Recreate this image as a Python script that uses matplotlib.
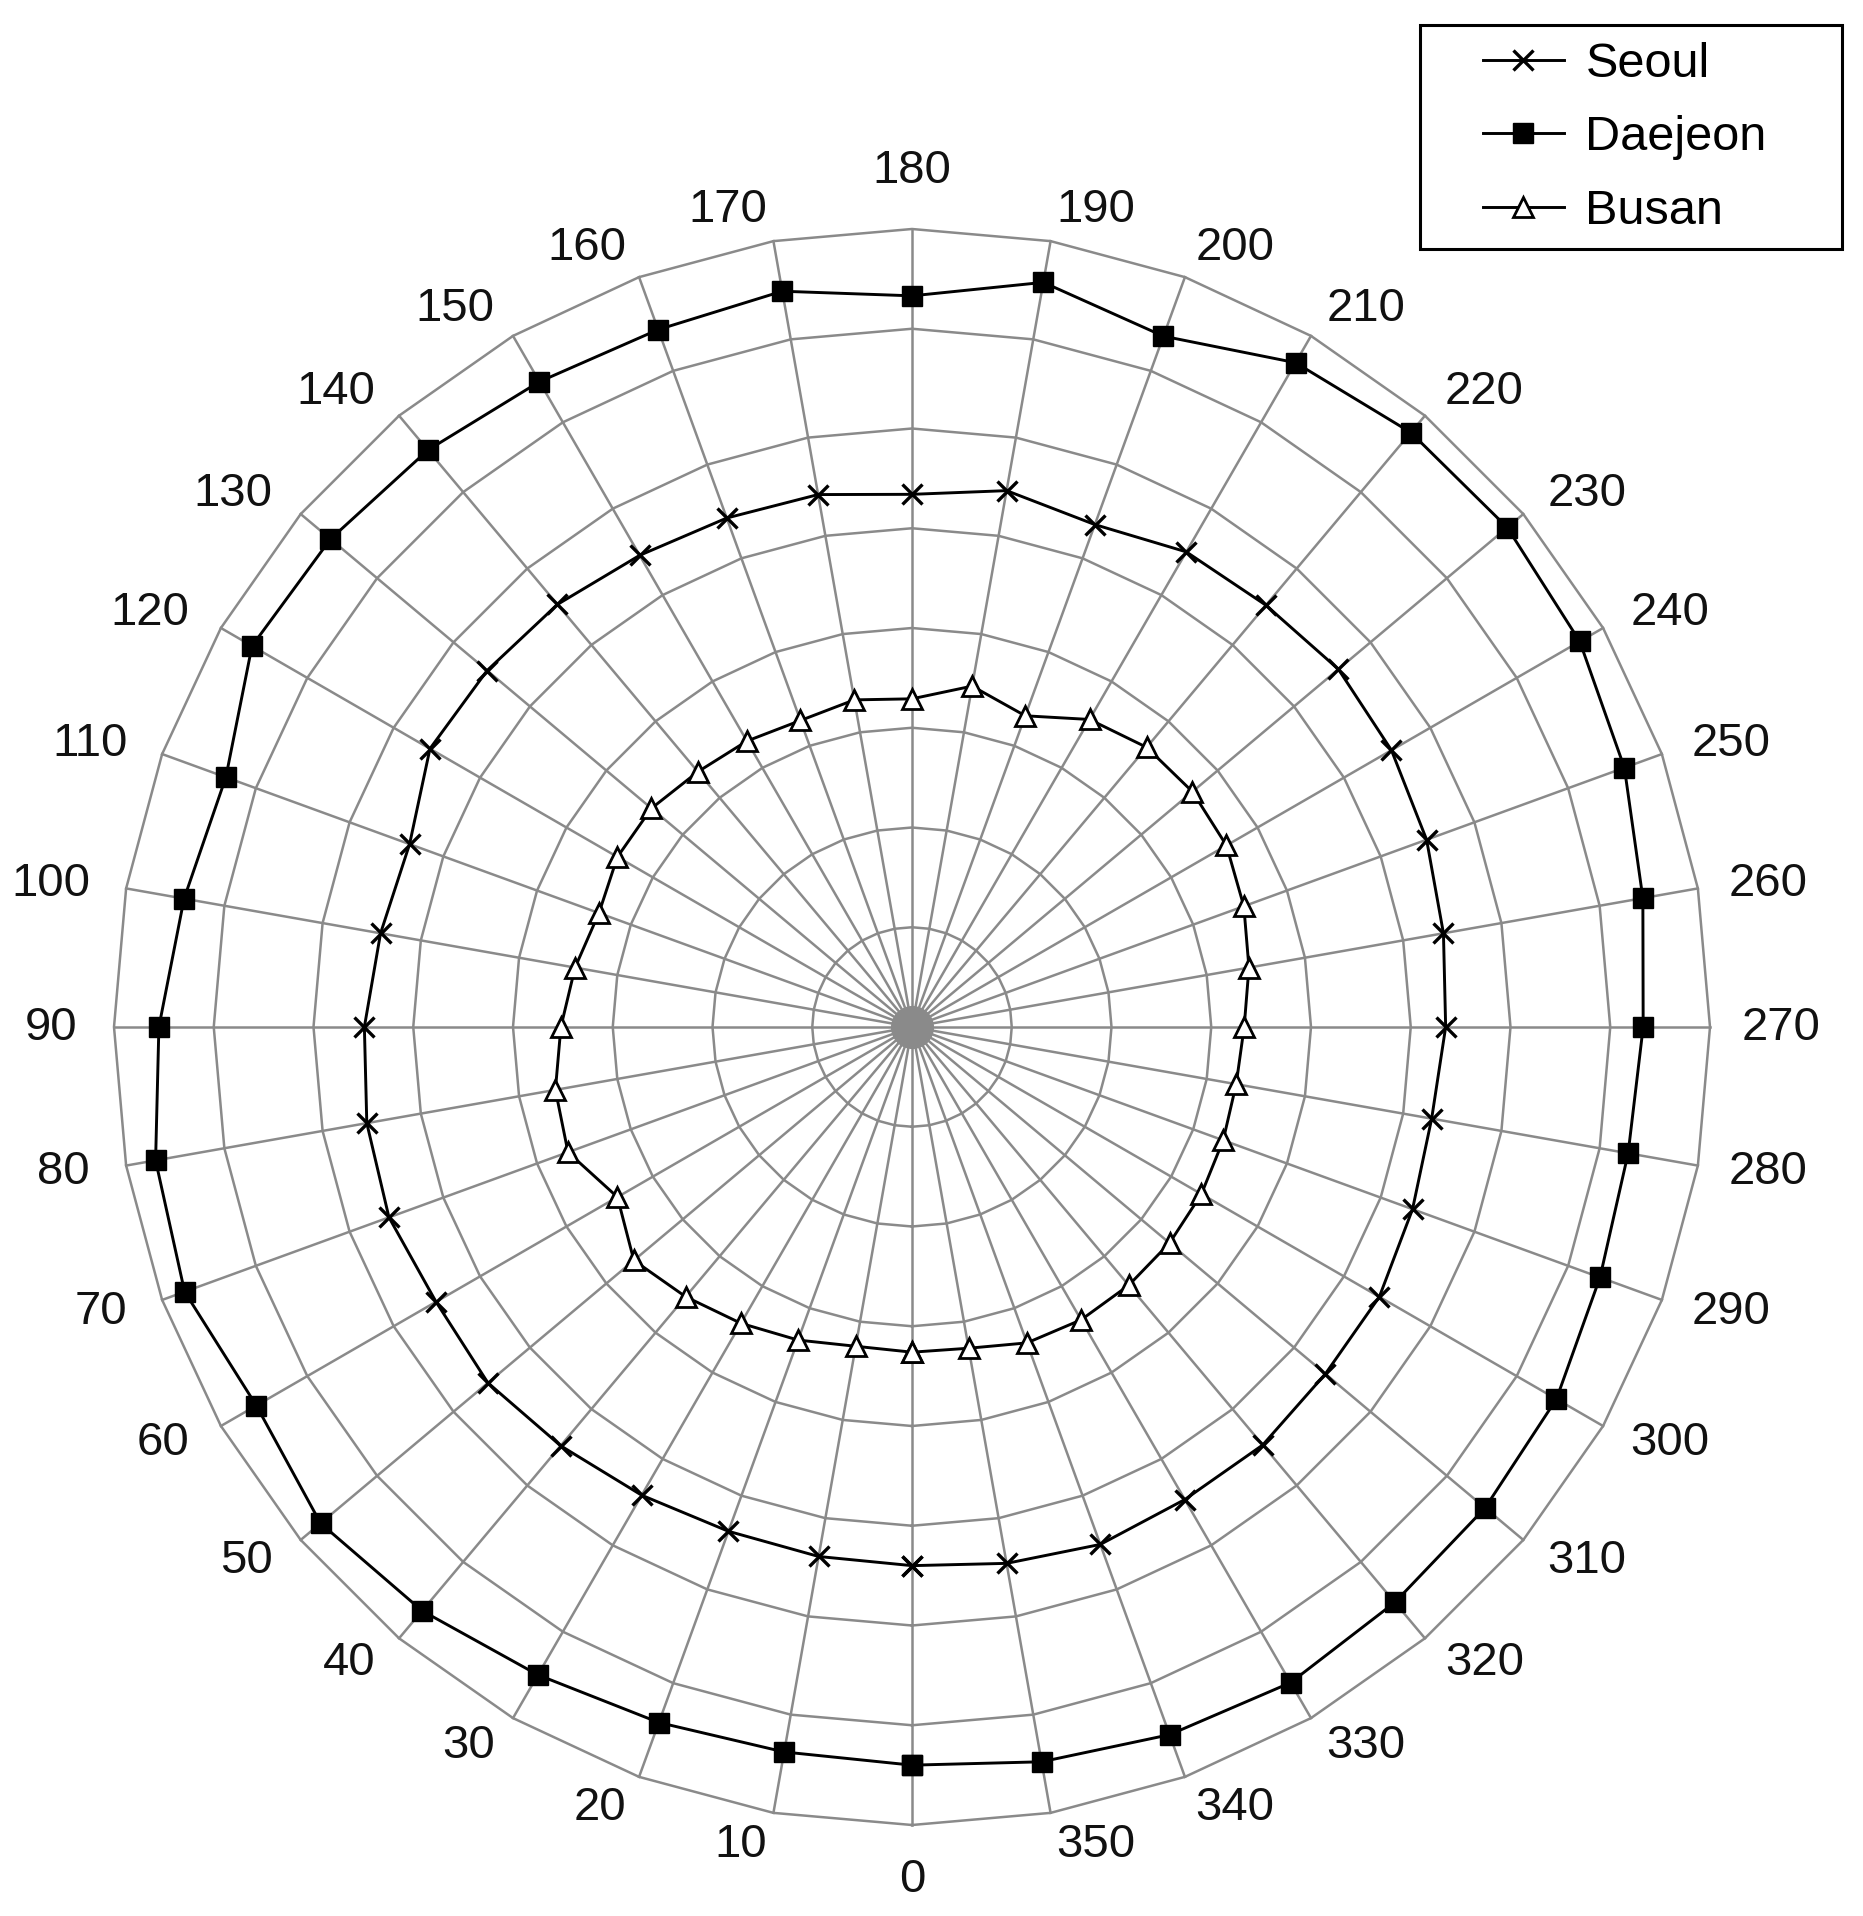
import numpy as np
import matplotlib
matplotlib.use('Agg')
import matplotlib.pyplot as plt
from matplotlib.patches import Rectangle

plt.rcParams['font.family'] = ['Liberation Sans', 'DejaVu Sans']

# direction in degrees (0 at bottom, going clockwise)
angles = list(range(0, 360, 10))
angle_labels = [str(a) for a in angles]

seoul = [5.40, 5.39, 5.38, 5.42, 5.48, 5.55, 5.51, 5.58, 5.55, 5.49, 5.41, 5.36,
         5.58, 5.56, 5.53, 5.46, 5.43, 5.42, 5.34, 5.46, 5.36, 5.50, 5.52, 5.58,
         5.55, 5.49, 5.41, 5.35, 5.29, 5.34, 5.41, 5.41, 5.47, 5.47, 5.52, 5.46]
daejeon = [7.40, 7.38, 7.42, 7.50, 7.64, 7.74, 7.59, 7.76, 7.70, 7.55, 7.41, 7.32,
           7.64, 7.61, 7.55, 7.47, 7.44, 7.49, 7.33, 7.58, 7.37, 7.69, 7.78, 7.79,
           7.73, 7.60, 7.44, 7.33, 7.29, 7.34, 7.46, 7.50, 7.53, 7.59, 7.55, 7.48]
busan = [3.26, 3.25, 3.34, 3.43, 3.53, 3.64, 3.41, 3.67, 3.63, 3.52, 3.43, 3.34,
         3.41, 3.41, 3.34, 3.31, 3.27, 3.33, 3.29, 3.47, 3.32, 3.56, 3.66, 3.67,
         3.64, 3.54, 3.43, 3.33, 3.30, 3.32, 3.35, 3.37, 3.38, 3.39, 3.37, 3.27]

rings = [1, 2, 3, 4, 5, 6, 7, 8]
rmax = 8

W, H = 1863, 1916
fig = plt.figure(figsize=(W / 100, H / 100), dpi=100)
cx, cy, R = 912, 1027, 798
ax = fig.add_axes([(cx - R) / W, (H - cy - R) / H, 2 * R / W, 2 * R / H],
                  projection='polar')
ax.set_theta_zero_location('S')
ax.set_theta_direction(-1)
ax.set_ylim(0, rmax)
ax.set_xticks([])
ax.set_yticks([])
ax.grid(False)
ax.spines['polar'].set_visible(False)
ax.patch.set_visible(False)

theta = np.deg2rad(angles)
closed = np.append(theta, theta[0])
grey = '#8a8a8a'

# polygon rings and spokes
for r in rings:
    ax.plot(closed, [r] * len(closed), color=grey, lw=1.8, clip_on=False, zorder=1)
for t in theta:
    ax.plot([t, t], [0, rmax], color=grey, lw=1.8, clip_on=False, zorder=1)
ax.plot([0], [0], 'o', color=grey, ms=30, zorder=1)

# angle labels, excel style: pushed off the outer vertex
for t, lab in zip(theta, angle_labels):
    ux, uy = -np.sin(t), -np.cos(t)
    if abs(ux) < 1e-6:
        va = 'top' if uy < 0 else 'bottom'
        dy = 26 if uy > 0 else -23.5
        ax.annotate(lab, (t, rmax), xytext=(0, dy),
                    textcoords='offset points', ha='center', va=va,
                    fontsize=34, color='#111111')
    else:
        ha = 'right' if ux < 0 else 'left'
        gx = 26.5 if ux < 0 else 22.5
        ax.annotate(lab, (t, rmax), xytext=(gx * ux, 23 * uy - 0.5),
                    textcoords='offset points', ha=ha, va='center',
                    fontsize=34, color='#111111')

def close(v):
    return list(v) + [v[0]]

ax.plot(closed, close(seoul), color='black', lw=2.1, marker='x', ms=14, mew=2.4,
        label='Seoul', zorder=3, clip_on=False)
ax.plot(closed, close(daejeon), color='black', lw=2.1, marker='s', ms=14,
        label='Daejeon', zorder=3, clip_on=False)
ax.plot(closed, close(busan), color='black', lw=2.1, marker='^', ms=14, mfc='white',
        mew=2, label='Busan', zorder=3, clip_on=False)

fig.legend(loc='center', bbox_to_anchor=(1625 / W, 1 - 138 / H),
           fontsize=35, frameon=False, handlelength=1.65, handletextpad=0.45,
           labelspacing=0.58, borderpad=0, borderaxespad=0)
fig.patches.append(Rectangle((1420 / W, 1 - 249 / H), 422 / W, 224 / H,
                             transform=fig.transFigure, fill=False,
                             edgecolor='black', lw=2.2))

fig.savefig('out.png', dpi=100)
